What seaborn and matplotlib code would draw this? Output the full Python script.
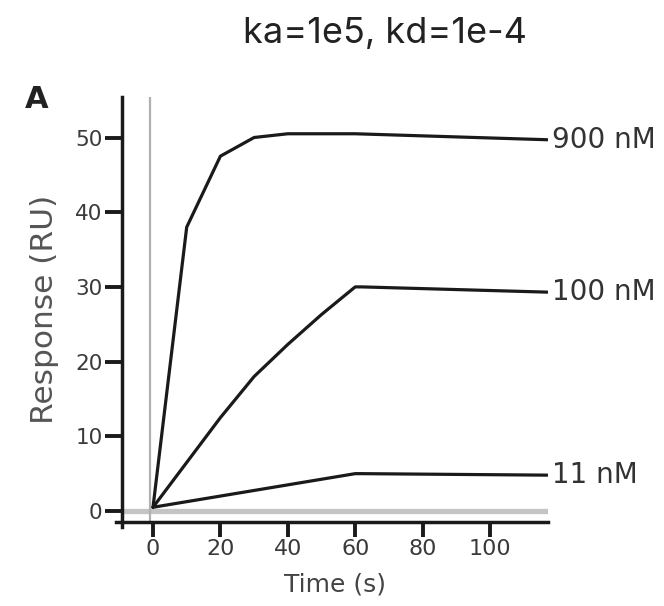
import matplotlib
matplotlib.use("Agg")
import matplotlib.pyplot as plt
import seaborn as sns
import pandas as pd

# Data
t_900 = [0, 10, 20, 30, 40, 60, 117]
r_900 = [0.5, 38.0, 47.5, 50.0, 50.5, 50.5, 49.7]
t_100 = [0, 10, 20, 30, 40, 50, 60, 62, 117]
r_100 = [0.5, 6.5, 12.5, 18.0, 22.3, 26.3, 30.0, 30.0, 29.3]
t_11 = [0, 20, 40, 60, 62, 117]
r_11 = [0.5, 2.0, 3.5, 5.0, 5.0, 4.8]
series_labels = ["900 nM", "100 nM", "11 nM"]
x_ticks = [0, 20, 40, 60, 80, 100]
y_ticks = [0, 10, 20, 30, 40, 50]

frames = []
for lab, t, r in zip(series_labels, [t_900, t_100, t_11], [r_900, r_100, r_11]):
    frames.append(pd.DataFrame({"Time": t, "Response": r, "conc": lab}))
df = pd.concat(frames, ignore_index=True)

sns.set_style("white")
plt.rcParams['font.family'] = ['DejaVu Sans']

fig = plt.figure(figsize=(6.64, 6.06), dpi=100)
ax = fig.add_axes([122/664, 1 - 522/606, (548-122)/664, (522-97)/606])

# reference lines (gray baseline and injection marker)
ax.axhline(0, color="#c4c4c4", lw=3.8, zorder=1)
ax.axvline(-1, color="#b0b0b0", lw=1.6, zorder=1)

sns.lineplot(data=df, x="Time", y="Response", units="conc", estimator=None,
             color="#1a1a1a", lw=2.3, ax=ax, legend=False, zorder=3)

xmin = (122 - 153) / 3.37
xmax = (548 - 153) / 3.37
ymin = (511 - 522) / 7.47
ymax = (511 - 97) / 7.47
ax.set_xlim(xmin, xmax)
ax.set_ylim(ymin, ymax)

ax.set_xticks(x_ticks)
ax.set_yticks(y_ticks)
for s in ["top", "right"]:
    ax.spines[s].set_visible(False)
for s in ["left", "bottom"]:
    ax.spines[s].set_color("#1a1a1a")
    ax.spines[s].set_linewidth(2.5)
ax.spines["left"].set_bounds(ymin - 5 / 7.47, ymax)
ax.spines["bottom"].set_bounds(xmin - 6 / 3.37, xmax)
ax.tick_params(axis="y", direction="out", length=12, width=2.8, color="#1a1a1a",
               labelsize=15.5, labelcolor="#3a3a3a", left=True, pad=2)
ax.tick_params(axis="x", direction="out", length=11, width=2.8, color="#1a1a1a",
               labelsize=16, labelcolor="#3a3a3a", bottom=True, pad=1)
ax.set_xlabel("Time (s)", fontsize=18, color="#444444", labelpad=10)
ax.set_ylabel("Response (RU)", fontsize=22.5, color="#555555", labelpad=12)

# end labels
for lab, t, r in zip(series_labels, [t_900, t_100, t_11], [r_900, r_100, r_11]):
    ax.text(t[-1] + 1.5, r[-1], lab, fontsize=20, color="#333333",
            va="center", ha="left", clip_on=False)

fig.text(37/664, 1 - 100/606, "A", fontsize=22, fontweight="bold", color="#222222",
         ha="center", va="center")
fig.text(385/664, 1 - 43/606, "ka=1e5, kd=1e-4", fontsize=26, color="#222222",
         ha="center", va="baseline", family="Inter")

fig.savefig("out.png", dpi=100)
